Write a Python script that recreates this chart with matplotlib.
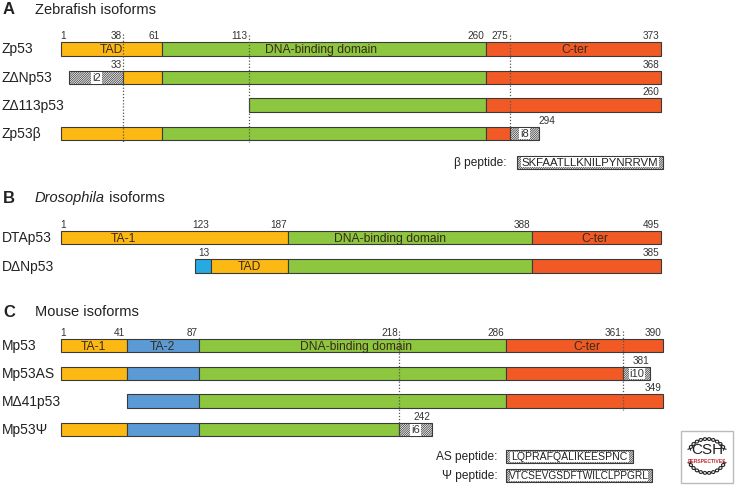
import matplotlib
matplotlib.use('Agg')
import matplotlib.pyplot as plt
from matplotlib.patches import Rectangle
import numpy as np

plt.rcParams['font.family'] = ['Liberation Sans', 'DejaVu Sans']
plt.rcParams['hatch.linewidth'] = 0.55
HATCH = '/' * 15

# ---------------- data ----------------
# Panel A: zebrafish
zf_isoforms = ['Zp53', 'Z\u0394Np53', 'Z\u0394113p53', 'Zp53\u03b2']
zf_segments = [
    [(1, 61, 'TA'), (61, 260, 'DBD'), (260, 373, 'CT')],
    [(6, 38, 'i2'), (38, 61, 'TA'), (61, 260, 'DBD'), (260, 373, 'CT')],
    [(113, 260, 'DBD'), (260, 373, 'CT')],
    [(1, 61, 'TA'), (61, 260, 'DBD'), (260, 275, 'CT'), (275, 294, 'i8')],
]
zf_numbers = [
    [(1, '1'), (38, '38'), (61, '61'), (113, '113'), (260, '260'), (275, '275'), (373, '373')],
    [(38, '33'), (373, '368')],
    [(373, '260')],
    [(294, '294')],
]
zf_domain_text = [[(31, 'TAD'), (158, 'DNA-binding domain'), (317, 'C-ter')], [], [], []]
zf_dotted = [38, 113, 275]

# Panel B: Drosophila
dm_isoforms = ['DTAp53', 'D\u0394Np53']
dm_segments = [
    [(1, 187, 'TA'), (187, 388, 'DBD'), (388, 495, 'CT')],
    [(110, 123, 'N'), (123, 187, 'TA'), (187, 388, 'DBD'), (388, 495, 'CT')],
]
dm_numbers = [
    [(1, '1'), (123, '123'), (187, '187'), (388, '388'), (495, '495')],
    [(123, '13'), (495, '385')],
]
dm_domain_text = [[(52, 'TA-1'), (271, 'DNA-binding domain'), (440, 'C-ter')], [(155, 'TAD')]]

# Panel C: mouse
mm_isoforms = ['Mp53', 'Mp53AS', 'M\u039441p53', 'Mp53\u03a8']
mm_segments = [
    [(1, 41, 'TA'), (41, 87, 'TA2'), (87, 286, 'DBD'), (286, 390, 'CT')],
    [(1, 41, 'TA'), (41, 87, 'TA2'), (87, 286, 'DBD'), (286, 361, 'CT'), (361, 381, 'i10')],
    [(41, 87, 'TA2'), (87, 286, 'DBD'), (286, 390, 'CT')],
    [(1, 41, 'TA'), (41, 87, 'TA2'), (87, 218, 'DBD'), (218, 239, 'i6')],
]
mm_numbers = [
    [(1, '1'), (41, '41'), (87, '87'), (218, '218'), (286, '286'), (361, '361'), (390, '390')],
    [(381, '381')],
    [(390, '349')],
    [(239, '242')],
]
mm_domain_text = [[(21, 'TA-1'), (64, 'TA-2'), (190, 'DNA-binding domain'), (338, 'C-ter')], [], [], []]
mm_dotted = [218, 361]

peptide_names = ['\u03b2 peptide:', 'AS peptide:', '\u03a8 peptide:']
peptide_seqs = ['SKFAATLLKNILPYNRRVM', 'LQPRAFQALIKEESPNC', 'VTCSEVGSDFTWILCLPPGRL']

# ---------------- layout / style ----------------
COLORS = {'TA': '#FDB913', 'TA2': '#5B9BD5', 'DBD': '#8DC63F', 'CT': '#F15A24', 'N': '#27AAE1'}
EDGE = '#3a3a3a'
TXT = '#333333'
BAR_H = 13.5

# schematic (non-linear) residue -> x scales for each panel
zf_scale = ([1, 38, 61, 113, 260, 275, 373], [61, 123.3, 161.7, 248.7, 486, 510, 661])
dm_scale = ([1, 123, 187, 388, 495], [61, 210.7, 288.3, 531.7, 661])
mm_scale = ([1, 41, 87, 218, 286, 361, 390], [61, 126.7, 198.7, 399.3, 505.7, 623.3, 662.7])

fig = plt.figure(figsize=(7.35, 4.86), dpi=100)
ax = fig.add_axes([0, 0, 1, 1])
ax.set_xlim(0, 735)
ax.set_ylim(486, 0)
ax.axis('off')


def X(scale, r):
    return float(np.interp(r, scale[0], scale[1]))


def draw_panel(isoforms, segments, numbers, dtext, scale, rows_y, dotted=None, dotted_spans=None):
    for name, segs, nums, dts, yc in zip(isoforms, segments, numbers, dtext, rows_y):
        ax.text(2, yc + 0.5, name, fontsize=10, ha='left', va='center', color='#222222')
        top = yc - BAR_H / 2
        for (a, b, kind) in segs:
            x0, x1 = X(scale, a), X(scale, b)
            if kind.startswith('i'):
                ax.add_patch(Rectangle((x0, top), x1 - x0, BAR_H, facecolor='white',
                                       edgecolor=EDGE, hatch=HATCH, lw=0.8, zorder=2))
                ax.text((x0 + x1) / 2, yc + 0.3, kind, fontsize=8, ha='center', va='center',
                        color=TXT, zorder=4,
                        bbox=dict(boxstyle='square,pad=0.08', fc='white', ec='none'))
            else:
                ax.add_patch(Rectangle((x0, top), x1 - x0, BAR_H, facecolor=COLORS[kind],
                                       edgecolor=EDGE, lw=0.8, zorder=2))
        for (r, lab) in nums:
            x = X(scale, r)
            if lab == '1' or (r == 294 and lab == '294'):
                ax.text(x - 1, top - 1, lab, fontsize=7.2, ha='left', va='bottom', color=TXT)
            else:
                ax.text(x - 1.5, top - 1, lab, fontsize=7.2, ha='right', va='bottom', color=TXT)
        for (r, lab) in dts:
            ax.text(X(scale, r), yc + 0.8, lab, fontsize=8.7, ha='center', va='center',
                    color='#3a2a1a', zorder=3)
    if dotted:
        for r, (y0, y1) in zip(dotted, dotted_spans):
            x = X(scale, r)
            ax.plot([x, x], [y0, y1], color='#555555', lw=0.9, ls=(0, (1, 1.5)), zorder=3)


# Titles
def panel_title(letter, y, parts):
    ax.text(3, y, letter, fontsize=12, fontweight='bold', ha='left', va='center', color='#222222')
    x = 35
    for txt, style in parts:
        t = ax.text(x, y, txt, fontsize=10.5, style=style, ha='left', va='center', color='#222222')
        fig.canvas.draw()
        bb = t.get_window_extent().transformed(ax.transData.inverted())
        x = bb.x1


panel_title('A', 10, [('Zebrafish isoforms', 'normal')])
panel_title('B', 198, [('Drosophila', 'italic'), (' isoforms', 'normal')])
panel_title('C', 312, [('Mouse isoforms', 'normal')])

draw_panel(zf_isoforms, zf_segments, zf_numbers, zf_domain_text, zf_scale,
           [49, 77.5, 105, 133.3], zf_dotted, [(34, 142), (35, 142), (35, 128)])
draw_panel(dm_isoforms, dm_segments, dm_numbers, dm_domain_text, dm_scale, [237.7, 266])
draw_panel(mm_isoforms, mm_segments, mm_numbers, mm_domain_text, mm_scale,
           [345.7, 373.3, 401.2, 429.7], mm_dotted, [(331, 436), (331, 410)])

# Peptides
pep_rows = [(162, 517, 662.7, 506.7), (456.5, 505.7, 633.3, 497.3), (475.8, 505.7, 652, 497.3)]
pep_fs = [8.2, 7.6, 7.3]
for name, seq, (yc, x0, x1, xl), fs in zip(peptide_names, peptide_seqs, pep_rows, pep_fs):
    ax.text(xl, yc + 0.5, name, fontsize=8.6, ha='right', va='center', color='#222222')
    ax.add_patch(Rectangle((x0, yc - 6.5), x1 - x0, 13, facecolor='white', edgecolor=EDGE,
                           hatch=HATCH, lw=0.8, zorder=2))
    ax.add_patch(Rectangle((x0 + 4, yc - 5), x1 - x0 - 8, 10, facecolor='white',
                           edgecolor='none', zorder=3))
    ax.text((x0 + x1) / 2, yc + 0.5, seq, fontsize=fs, ha='center', va='center', color='#222222',
            zorder=4)

# CSH Perspectives logo
ax.add_patch(Rectangle((680.7, 431), 52.6, 52.3, facecolor='white', edgecolor='#bbbbbb', lw=1))
cx, cy = 707, 456
t = np.linspace(0.12 * np.pi, 0.88 * np.pi, 120)
for sgn in (1, -1):
    for ph in (0, np.pi):
        r = 19 + 1.6 * np.sin(14 * t + ph)
        ax.plot(cx + r * np.cos(t), cy - sgn * 17 / 19 * r * np.sin(t), color='#222222', lw=0.8)
ax.text(cx, 449.5, 'CSH', fontsize=11, ha='center', va='center', color='#222222')
ax.text(cx, 461.5, 'PERSPECTIVES', fontsize=3.6, fontweight='bold', ha='center', va='center',
        color='#c1272d')

fig.savefig('out.png', dpi=100)
